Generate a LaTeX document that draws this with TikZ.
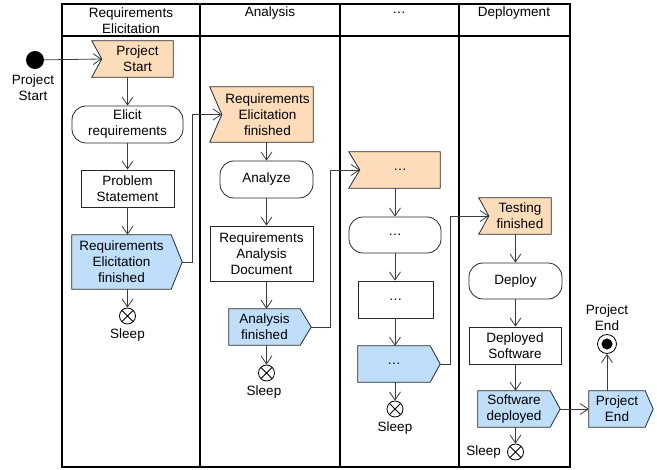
\documentclass[tikz,border=0pt]{standalone}
\usepackage{fontspec}
\setmainfont{Liberation Sans}
\usetikzlibrary{arrows.meta,backgrounds,calc}
\definecolor{flagorange}{RGB}{253,220,186}
\definecolor{flagblue}{RGB}{190,222,250}
\definecolor{edgegray}{RGB}{60,60,60}
\definecolor{boxline}{RGB}{40,40,40}
\tikzset{
  every node/.style={font=\fontsize{13.5}{16}\selectfont, align=center, inner sep=0pt},
  sz/.style 2 args={minimum width=#1pt, minimum height=#2pt},
  lane/.style={draw=black, line width=1.1pt},
  flagline/.style={draw=boxline, line width=0.8pt},
  rectbox/.style={rectangle, draw=boxline, line width=0.8pt, fill=white},
  roundbox/.style={rectangle, rounded corners=14pt, draw=boxline, line width=0.8pt, fill=white},
  txt/.style={rectangle},
  sleep/.style={circle, draw=black, line width=0.8pt, minimum size=16pt, fill=white,
    path picture={\draw[line width=0.8pt] (path picture bounding box.north west) -- (path picture bounding box.south east)
      (path picture bounding box.south west) -- (path picture bounding box.north east);}},
  conn/.style={draw=edgegray, line width=0.8pt, -{Straight Barb[length=8pt,width=11pt]}}
}
\newcommand\orangeflag[2]{%
  \draw[flagline, fill=flagorange] ($(#1.north west)+(-#2,0)$) -- (#1.north east) -- (#1.south east) -- ($(#1.south west)+(-#2,0)$) -- (#1.west) -- cycle;}
\newcommand\blueflag[3]{%
  \draw[flagline, fill=flagblue] (#1.north west) -- (#1.north east) -- ($(#1.east)+(#2,0)$) coordinate (#3) -- (#1.south east) -- (#1.south west) -- cycle;}
\begin{document}
\begin{tikzpicture}[x=1pt,y=-1pt]
\useasboundingbox (0,0) rectangle (657,470);
% swimlanes
\draw[lane] (62,4) rectangle (570,467);
\draw[lane] (62,36) -- (570,36);
\draw[lane] (200,4) -- (200,467);
\draw[lane] (340,4) -- (340,467);
\draw[lane] (459,4) -- (459,467);
\node (h1) at (131,20.5) {Requirements\\Elicitation};
\node (h2) at (270,13) {Analysis};
\node (h3) at (399,13) {…};
\node (h4) at (514,13) {Deployment};

% start / end
\node[circle, fill=black, minimum size=18pt] (S) at (35,60) {};
\node (SL) at (33,88) {Project\\Start};
\node[circle, draw=black, line width=0.8pt, fill=white, minimum size=19pt] (E) at (607,344) {};
\node[circle, fill=black, minimum size=11pt] (Ei) at (E) {};
\node (EL) at (607,317.5) {Project\\End};

% lane 1
\node[txt, sz={71}{36}] (PS) at (137.5,59) {Project\\Start};
\node[roundbox, sz={111}{37}] (ER) at (127.5,124.5) {Elicit\\requirements};
\node[rectbox, sz={93}{37}] (PSt) at (127.5,188.5) {Problem\\Statement};
\node[txt, sz={99}{54}] (REF) at (121.5,262) {Requirements\\Elicitation\\finished};
\node[sleep] (s1) at (127.5,316) {};
\node (s1l) at (127.5,335) {Sleep};

% lane 2
\node[txt, sz={91}{55}] (REO) at (267.5,114.5) {Requirements\\Elicitation\\finished};
\node[roundbox, sz={93}{37}] (AN) at (266.5,179.5) {Analyze};
\node[rectbox, sz={103}{55}] (RAD) at (261.5,253.5) {Requirements\\Analysis\\Document};
\node[txt, sz={71}{36}] (AF) at (264.5,327) {Analysis\\finished};
\node[sleep] (s2) at (266.5,373) {};
\node (s2l) at (264,392) {Sleep};

% lane 3
\node[txt, sz={80}{36}] (DO) at (400,170) {…};
\node[roundbox, sz={92}{36}] (DR) at (395,235) {…};
\node[rectbox, sz={75}{37}] (DB) at (395.5,299.5) {…};
\node[txt, sz={72}{36}] (DBl) at (394,364) {…};
\node[sleep] (s3) at (395,409) {};
\node (s3l) at (395,428) {Sleep};

% lane 4
\node[txt, sz={62}{36}] (TF) at (520,216) {Testing\\finished};
\node[roundbox, sz={93}{36}] (DP) at (515.5,281) {Deploy};
\node[rectbox, sz={92}{37}] (DS) at (515,345.5) {Deployed\\Software};
\node[txt, sz={72}{36}] (SD) at (514,409) {Software\\deployed};
\node[sleep] (s4) at (515.5,452) {};
\node[anchor=east] (s4l) at (501,452) {Sleep};

% end flag
\node[txt, sz={56}{36}] (PE) at (617,409) {Project\\End};

\begin{pgfonlayer}{background}
\orangeflag{PS}{10}
\orangeflag{REO}{12}
\orangeflag{DO}{11}
\orangeflag{TF}{10}
\blueflag{REF}{11}{REFt}
\blueflag{AF}{11}{AFt}
\blueflag{DBl}{10}{DBlt}
\blueflag{SD}{10}{SDt}
\blueflag{PE}{8}{PEt}
\end{pgfonlayer}

% connectors
\draw[conn] (S) -- (PS.west);
\draw[conn] (PS.south -| ER) -- (ER.north);
\draw[conn] (ER.south) -- (PSt.north);
\draw[conn] (PSt.south) -- (PSt.south |- REF.north);
\draw[conn] (ER |- REF.south) -- (s1.north);
\draw[conn] (REFt) -- ++(10,0) |- (REO.west);

\draw[conn] (REO.south -| AN) -- (AN.north);
\draw[conn] (AN.south) -- (AN.south |- RAD.north);
\draw[conn] (AN |- RAD.south) -- (AN |- AF.north);
\draw[conn] (AN |- AF.south) -- (s2.north);
\draw[conn] (AFt) -- ++(19,0) |- (DO.west);

\draw[conn] (DO.south -| DR) -- (DR.north);
\draw[conn] (DR.south) -- (DR.south |- DB.north);
\draw[conn] (DR |- DB.south) -- (DR |- DBl.north);
\draw[conn] (DR |- DBl.south) -- (s3.north);
\draw[conn] (DBlt) -- ++(10,0) |- (TF.west);

\draw[conn] (TF.south -| DP) -- (DP.north);
\draw[conn] (DP.south) -- (DP.south |- DS.north);
\draw[conn] (DP |- DS.south) -- (DP |- SD.north);
\draw[conn] (DP |- SD.south) -- (s4.north);
\draw[conn] (SDt) -- (PE.west);
\draw[conn] (PE.north -| E) -- (E.south);
\end{tikzpicture}
\end{document}
